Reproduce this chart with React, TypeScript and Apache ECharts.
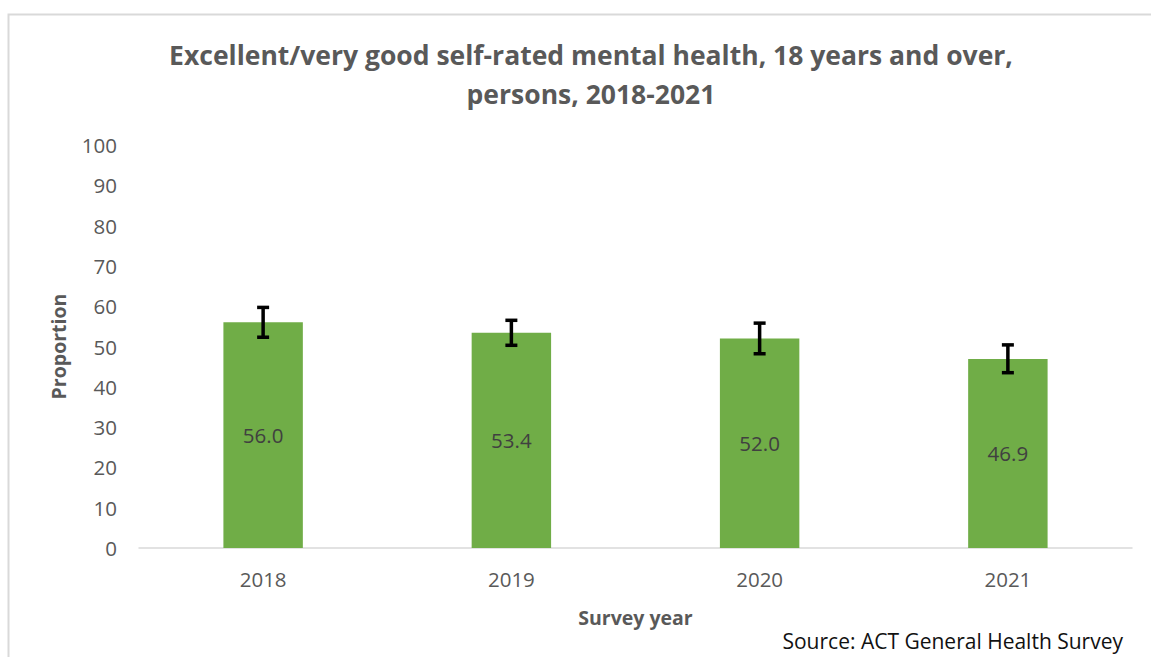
import React, { useEffect, useRef } from "react";
import * as echarts from "echarts";

const categories = ["2018", "2019", "2020", "2021"];
const proportions = [56.0, 53.4, 52.0, 46.9];
const ciLower = [52.3, 50.3, 48.2, 43.5];
const ciUpper = [59.7, 56.5, 55.8, 50.4];
const yTicks = { min: 0, max: 100, interval: 10 };

const titleText =
  "Excellent/very good self-rated mental health, 18 years and over,\npersons, 2018-2021";
const sourceText = "Source: ACT General Health Survey";
const FONT = "'Open Sans', sans-serif";

export default function App() {
  const ref = useRef<HTMLDivElement>(null);
  useEffect(() => {
    if (!ref.current) return;
    const chart = echarts.init(ref.current, null, { renderer: "svg" });
    const errData = categories.map((c, i) => [i, ciLower[i], ciUpper[i]]);
    chart.setOption({
      animation: false,
      backgroundColor: "#ffffff",
      textStyle: { fontFamily: FONT },
      title: {
        text: titleText,
        left: 586,
        top: 30,
        textAlign: "center",
        textStyle: {
          fontFamily: FONT,
          fontSize: 26.5,
          fontWeight: "bold",
          color: "#595959",
          lineHeight: 39,
        },
      },
      graphic: [
        {
          type: "rect",
          shape: { x: 8.5, y: 14.5, width: 1170, height: 700 },
          style: { fill: "none", stroke: "#d9d9d9", lineWidth: 2 },
          silent: true,
        },
        {
          type: "text",
          right: 28,
          top: 630,
          style: {
            text: sourceText,
            font: `normal 21px ${FONT}`,
            fill: "#111111",
          },
        },
      ],
      grid: { left: 139, right: 19, top: 145, bottom: 109 },
      xAxis: {
        type: "category",
        data: categories,
        name: "Survey year",
        nameLocation: "middle",
        nameGap: 59,
        nameTextStyle: { fontFamily: FONT, fontSize: 19.5, fontWeight: "bold", color: "#595959" },
        axisLine: { lineStyle: { color: "#d9d9d9", width: 1.5 } },
        axisTick: { show: false },
        axisLabel: { fontFamily: FONT, fontSize: 20.5, color: "#595959", margin: 20 },
      },
      yAxis: {
        type: "value",
        min: yTicks.min,
        max: yTicks.max,
        interval: yTicks.interval,
        name: "Proportion",
        nameLocation: "middle",
        nameGap: 71,
        nameTextStyle: { fontFamily: FONT, fontSize: 19.5, fontWeight: "bold", color: "#595959" },
        splitLine: { show: false },
        axisLine: { show: false },
        axisTick: { show: false },
        axisLabel: { fontFamily: FONT, fontSize: 20.5, color: "#595959", margin: 22 },
      },
      series: [
        {
          type: "bar",
          data: proportions,
          barWidth: "32%",
          itemStyle: { color: "#70ad47" },
          label: {
            show: true,
            position: "inside",
            formatter: (p: any) => Number(p.value).toFixed(1),
            fontFamily: FONT,
            fontSize: 20.5,
            color: "#404040",
          },
        },
        {
          type: "custom",
          data: errData,
          z: 10,
          renderItem: (params: any, api: any) => {
            const x = api.value(0);
            const lo = api.coord([x, api.value(1)]);
            const hi = api.coord([x, api.value(2)]);
            const w = 6;
            const style = { stroke: "#000000", lineWidth: 3.5 };
            return {
              type: "group",
              children: [
                { type: "line", shape: { x1: hi[0], y1: hi[1], x2: lo[0], y2: lo[1] }, style },
                { type: "line", shape: { x1: hi[0] - w, y1: hi[1], x2: hi[0] + w, y2: hi[1] }, style },
                { type: "line", shape: { x1: lo[0] - w, y1: lo[1], x2: lo[0] + w, y2: lo[1] }, style },
              ],
            };
          },
        },
      ],
    });
    return () => chart.dispose();
  }, []);
  return (
    <div
      ref={ref}
      style={{ position: "fixed", left: 0, top: 0, width: 1151, height: 657 }}
    />
  );
}
